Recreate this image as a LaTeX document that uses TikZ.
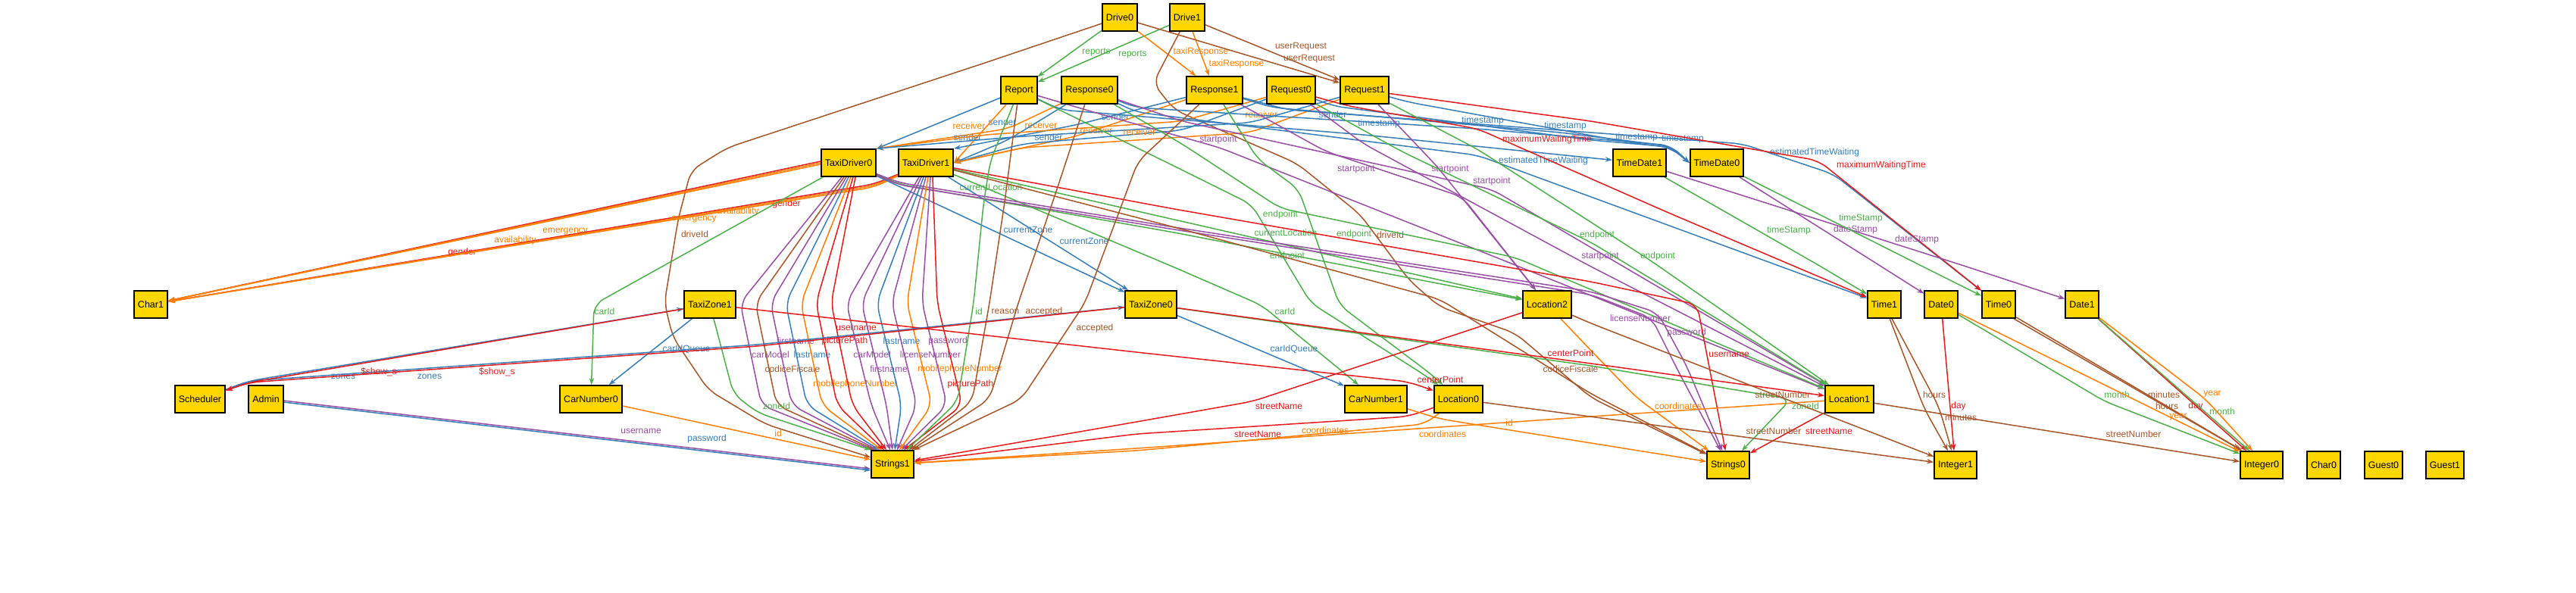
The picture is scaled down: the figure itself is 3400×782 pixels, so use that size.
\documentclass[tikz,border=0pt]{standalone}
\usepackage{fontspec}
\newfontfamily\af{Liberation Sans}
\usetikzlibrary{arrows.meta}
\pgfdeclarelayer{bg}
\pgfsetlayers{bg,main}
\definecolor{cR}{HTML}{E41A1C}
\definecolor{cB}{HTML}{377EB8}
\definecolor{cG}{HTML}{4DAF4A}
\definecolor{cP}{HTML}{984EA3}
\definecolor{cO}{HTML}{FF7F00}
\definecolor{cN}{HTML}{A65628}
\definecolor{gold}{HTML}{FFD700}
\begin{document}
\begin{tikzpicture}[x=1pt,y=-1pt,
  abox/.style={draw=black,line width=1.8pt,fill=gold,minimum height=36pt,inner xsep=5pt,inner ysep=0pt,font=\af\fontsize{12.5}{14}\selectfont},
  conn/.style={line width=1.5pt,-{Stealth[length=9pt,width=6.5pt]},rounded corners=14pt},
  lab/.style={font=\af\fontsize{12}{13}\selectfont,inner sep=0pt}]
\useasboundingbox (0,0) rectangle (3400,782);
% nodes
\node[abox] (D0) at (1478,23) {Drive0};
\node[abox] (D1) at (1567,23) {Drive1};
\node[abox] (Rep) at (1345,119) {Report};
\node[abox] (Rs0) at (1438,119) {Response0};
\node[abox] (Rs1) at (1603,119) {Response1};
\node[abox] (Rq0) at (1704,119) {Request0};
\node[abox] (Rq1) at (1801,119) {Request1};
\node[abox] (TD0) at (1120,215) {TaxiDriver0};
\node[abox] (TD1) at (1222,215) {TaxiDriver1};
\node[abox] (TT1) at (2164,215) {TimeDate1};
\node[abox] (TT0) at (2266,215) {TimeDate0};
\node[abox] (Ch1) at (199,402) {Char1};
\node[abox] (TZ1) at (937,402) {TaxiZone1};
\node[abox] (TZ0) at (1519,402) {TaxiZone0};
\node[abox] (L2) at (2042,402) {Location2};
\node[abox] (Ti1) at (2487,402) {Time1};
\node[abox] (Da0) at (2562,402) {Date0};
\node[abox] (Ti0) at (2638,402) {Time0};
\node[abox] (Da1) at (2748,402) {Date1};
\node[abox] (Sch) at (264,527) {Scheduler};
\node[abox] (Adm) at (351,527) {Admin};
\node[abox] (CN0) at (780,527) {CarNumber0};
\node[abox] (CN1) at (1816,527) {CarNumber1};
\node[abox] (L0) at (1925,527) {Location0};
\node[abox] (L1) at (2441,527) {Location1};
\node[abox] (S1) at (1178,613) {Strings1};
\node[abox] (S0) at (2281,614) {Strings0};
\node[abox] (I1) at (2581,614) {Integer1};
\node[abox] (I0) at (2985,614) {Integer0};
\node[abox] (Ch0) at (3067,614) {Char0};
\node[abox] (G0) at (3146,614) {Guest0};
\node[abox] (G1) at (3227,614) {Guest1};
\begin{pgfonlayer}{bg}
\fill[white] (0,0) rectangle (3400,782);
% Drive
\draw[conn,cG] (D0) -- (Rep) node[lab] at (1447,69) {reports};
\draw[conn,cG] (D1) -- (Rep) node[lab] at (1495,72) {reports};
\draw[conn,cO] (D0) -- (Rs1) node[lab] at (1585,68) {taxiResponse};
\draw[conn,cO] (D1) -- (Rs1) node[lab] at (1632,84) {taxiResponse};
\draw[conn,cN] (D0) -- (Rq1) node[lab] at (1717,62) {userRequest};
\draw[conn,cN] (D1) -- (Rq1) node[lab] at (1728,78) {userRequest};
\draw[conn,cN] (D0) -- (1300,83) -- (960,195) -- (912,225) -- (895,290) -- (877,400) -- (888,445) -- (935,515) -- (1010,560) -- (S1) node[lab] at (917,309) {driveId};
\draw[conn,cN] (D1) -- (1522,110) -- (1550,145) -- (1712,216) -- (1795,283) -- (1860,370) -- (1900,405) -- (2000,440) -- (2100,525) -- (S0) node[lab] at (1835,310) {driveId};
% sender / receiver
\draw[conn,cB] (Rep) -- (TD0.north east) node[lab] at (1323,161) {sender};
\draw[conn,cO] (Rep) -- (TD1.east) node[lab] at (1279,166) {receiver};
\draw[conn,cO] (Rs0) -- (1330,170) -- (TD0.north east) node[lab] at (1374,165) {receiver};
\draw[conn,cB] (Rs0) -- (1330,185) -- (TD1.east) node[lab] at (1384,181) {sender};
\draw[conn,cB] (Rs1) -- (1420,165) -- (TD1.north east) node[lab] at (1472,154) {sender};
\draw[conn,cO] (Rs1) -- (1420,180) -- (TD1.east) node[lab] at (1447,172) {receiver};
\draw[conn,cB] (Rq0) -- (1560,172) -- (1350,190) -- (TD1.east) node[lab] at (1277,181) {sender};
\draw[conn,cO] (Rq0) -- (1560,160) -- (1300,178) -- (TD0.north east) node[lab] at (1665,151) {receiver};
\draw[conn,cB] (Rq1) -- (1650,162) -- (1350,180) -- (TD0.north east) node[lab] at (1759,151) {sender};
\draw[conn,cO] (Rq1) -- (1650,175) -- (1350,195) -- (TD1.east) node[lab] at (1504,174) {receiver};
% timestamp
\draw[conn,cB] (Rep) -- (1400,145) -- (1800,178) -- (TT1) node[lab] at (1820,163) {timestamp};
\draw[conn,cB] (Rs0) -- (1500,142) -- (1950,170) -- (2205,192) -- (TT0.west) node[lab] at (1957,159) {timestamp};
\draw[conn,cB] (Rs1) -- (1680,142) -- (2060,175) -- (2205,193) -- (TT0.west) node[lab] at (2066,166) {timestamp};
\draw[conn,cB] (Rq0) -- (1760,140) -- (2100,185) -- (2205,194) -- (TT0.west) node[lab] at (2160,181) {timestamp};
\draw[conn,cB] (Rq1) -- (1860,135) -- (2150,188) -- (2205,195) -- (TT0.west) node[lab] at (2221,183) {timestamp};
% waiting times
\draw[conn,cB] (Rs0) -- (1500,148) -- (1950,205) -- (Ti1) node[lab] at (2037,212) {estimatedTimeWaiting};
\draw[conn,cB] (Rs1) -- (1700,145) -- (2300,190) -- (2420,230) -- (Ti0) node[lab] at (2395,201) {estimatedTimeWaiting};
\draw[conn,cR] (Rq0) -- (1780,140) -- (1950,170) -- (2200,280) -- (Ti1) node[lab] at (2042,184) {maximumWaitingTime};
\draw[conn,cR] (Rq1) -- (2100,160) -- (2400,212) -- (Ti0) node[lab] at (2483,218) {maximumWaitingTime};
% startpoint
\draw[conn,cP] (Rq1) -- (1897,220) -- (L2) node[lab] at (1914,223) {startpoint};
\draw[conn,cP] (Rs1) -- (1750,200) -- (1930,260) -- (L2) node[lab] at (1790,223) {startpoint};
\draw[conn,cP] (Rep) -- (1450,150) -- (1610,195) -- (1950,330) -- (L1) node[lab] at (1608,184) {startpoint};
\draw[conn,cP] (Rs0) -- (1560,160) -- (1969,250) -- (L1) node[lab] at (1969,239) {startpoint};
\draw[conn,cP] (Rq0) -- (1800,190) -- (2096,350) -- (L1) node[lab] at (2112,338) {startpoint};
% endpoint
\draw[conn,cG] (Rep) -- (1537,213) -- (1652,270) -- (1730,400) -- (1880,495) -- (L0) node[lab] at (1699,338) {endpoint};
\draw[conn,cG] (Rs1) -- (1660,210) -- (1714,250) -- (1768,403) -- (1890,495) -- (L0) node[lab] at (1787,309) {endpoint};
\draw[conn,cG] (Rs0) -- (1560,190) -- (1690,275) -- (2000,340) -- (L1) node[lab] at (1690,283) {endpoint};
\draw[conn,cG] (Rq0) -- (1850,200) -- (2100,320) -- (L1) node[lab] at (2108,310) {endpoint};
\draw[conn,cG] (Rq1) -- (1950,197) -- (2180,345) -- (L1) node[lab] at (2188,338) {endpoint};
% TaxiDriver -> Char1
\draw[conn,cR] ([yshift=2pt]TD0.west) -- (Ch1) node[lab] at (610,333) {gender};
\draw[conn,cO] (TD0.west) -- (Ch1) node[lab] at (680,317) {availability};
\draw[conn,cO] ([yshift=-2pt]TD0.west) -- (Ch1) node[lab] at (746,306) {emergency};
\draw[conn,cR] (TD1) -- (1154,243) -- (Ch1) node[lab] at (1038,269) {gender};
\draw[conn,cO] (TD1) -- (1154,245) -- (Ch1) node[lab] at (974,279) {availability};
\draw[conn,cO] (TD1) -- (1154,247) -- (Ch1) node[lab] at (916,290) {emergency};
% carId, currentLocation, currentZone
\draw[conn,cG] (TD0) -- (784,402) -- (CN0) node[lab] at (798,411) {carId};
\draw[conn,cG] (TD1) -- (1550,353) -- (1665,403) -- (CN1) node[lab] at (1696,411) {carId};
\draw[conn,cG] (TD1) -- (1550,290) -- (L2) node[lab] at (1308,247) {currentLocation};
\draw[conn,cG] (TD0) -- (1186,243) -- (1550,307) -- (L2) node[lab] at (1697,307) {currentLocation};
\draw[conn,cB] (TD0) -- (TZ0) node[lab] at (1357,303) {currentZone};
\draw[conn,cB] (TD1) -- (TZ0) node[lab] at (1431,318) {currentZone};
% TaxiDriver -> Strings0
\draw[conn,cP] (TD0) -- (1186,241) -- (1550,300) -- (2100,385) -- (2188,413) -- (2226,483) -- (S0) node[lab] at (2165,420) {licenseNumber};
\draw[conn,cP] (TD0) -- (1186,244) -- (1550,303) -- (2100,389) -- (2180,420) -- (2215,490) -- (S0) node[lab] at (2226,439) {password};
\draw[conn,cR] (TD1) -- (1550,276) -- (2100,372) -- (2240,402) -- (S0) node[lab] at (2282,468) {username};
\draw[conn,cN] (TD1) -- (1550,300) -- (1900,395) -- (2100,520) -- (S0) node[lab] at (2073,487) {codiceFiscale};
% TaxiDriver0 -> Strings1 fan
\draw[conn,cP] ([xshift=-9pt]TD0.south) -- (977,400) -- (1005,535) -- ([xshift=-26pt]S1.north) node[lab] at (1017,468) {carModel};
\draw[conn,cN] ([xshift=-6pt]TD0.south) -- (997,400) -- (1025,535) -- ([xshift=-23pt]S1.north) node[lab] at (1046,487) {codiceFiscale};
\draw[conn,cP] ([xshift=-3pt]TD0.south) -- (1017,400) -- (1045,535) -- ([xshift=-20pt]S1.north) node[lab] at (1050,450) {firstname};
\draw[conn,cB] (TD0.south) -- (1037,400) -- (1065,535) -- ([xshift=-17pt]S1.north) node[lab] at (1072,468) {lastname};
\draw[conn,cO] ([xshift=3pt]TD0.south) -- (1057,400) -- (1085,535) -- ([xshift=-14pt]S1.north) node[lab] at (1129,507) {mobilephoneNumber};
\draw[conn,cR] ([xshift=6pt]TD0.south) -- (1077,400) -- (1105,535) -- ([xshift=-11pt]S1.north) node[lab] at (1115,450) {picturePath};
\draw[conn,cR] ([xshift=9pt]TD0.south) -- (1097,400) -- (1125,535) -- ([xshift=-8pt]S1.north) node[lab] at (1130,433) {username};
% TaxiDriver1 -> Strings1 fan
\draw[conn,cP] ([xshift=-9pt]TD1.south) -- (1117,400) -- (1150,535) -- ([xshift=-3pt]S1.north) node[lab] at (1151,468) {carModel};
\draw[conn,cP] ([xshift=-6pt]TD1.south) -- (1137,400) -- (1170,535) -- (S1.north) node[lab] at (1173,487) {firstname};
\draw[conn,cB] ([xshift=-3pt]TD1.south) -- (1157,400) -- (1190,535) -- ([xshift=3pt]S1.north) node[lab] at (1190,450) {lastname};
\draw[conn,cP] (TD1.south) -- (1177,400) -- (1210,535) -- ([xshift=6pt]S1.north) node[lab] at (1228,468) {licenseNumber};
\draw[conn,cO] ([xshift=3pt]TD1.south) -- (1197,400) -- (1230,535) -- ([xshift=9pt]S1.north) node[lab] at (1267,487) {mobilephoneNumber};
\draw[conn,cP] ([xshift=6pt]TD1.south) -- (1217,400) -- (1250,535) -- ([xshift=12pt]S1.north) node[lab] at (1251,450) {password};
\draw[conn,cR] ([xshift=9pt]TD1.south) -- (1237,400) -- (1270,535) -- ([xshift=15pt]S1.north) node[lab] at (1281,507) {picturePath};
% Report / Response -> Strings1
\draw[conn,cG] (Rep) -- (1307,213) -- (1298,270) -- (1285,400) -- (1264,530) -- ([xshift=19pt]S1.north) node[lab] at (1292,411) {id};
\draw[conn,cN] (Rep) -- (1326,267) -- (1306,400) -- (1283,530) -- ([xshift=22pt]S1.north) node[lab] at (1327,411) {reason};
\draw[conn,cN] (Rs0) -- (1395,250) -- (1344,400) -- (1306,527) -- ([xshift=25pt]S1.north) node[lab] at (1378,411) {accepted};
\draw[conn,cN] (Rs1) -- (1502,213) -- (1432,400) -- (1348,527) -- ([xshift=28pt]S1.north) node[lab] at (1445,433) {accepted};
% left side -> Strings1
\draw[conn,cG] (TZ1) -- (968,520) -- (1000,545) -- (S1.north west) node[lab] at (1025,536) {zoneId};
\draw[conn,cO] (CN0) -- (S1) node[lab] at (1027,572) {id};
\draw[conn,cP] ([yshift=-2pt]Adm.east) -- ([yshift=-6pt]S1.west) node[lab] at (846,569) {username};
\draw[conn,cB] ([yshift=-4pt]Adm.east) -- ([yshift=-8pt]S1.west) node[lab] at (933,579) {password};
% Locations -> Strings
\draw[conn,cR] (L2) -- (1653,530) -- (1500,557) -- (S1) node[lab] at (1688,536) {streetName};
\draw[conn,cR] (L0) -- (1858,550) -- (1500,573) -- (S1) node[lab] at (1660,573) {streetName};
\draw[conn,cO] (L1) -- (2100,550) -- (1500,592) -- (S1) node[lab] at (1749,568) {coordinates};
\draw[conn,cO] (L0) -- (1880,560) -- (1500,595) -- (S1) node[lab] at (1904,573) {coordinates};
\draw[conn,cO] (L2) -- (2100,463) -- (2160,525) -- (S0) node[lab] at (2215,536) {coordinates};
\draw[conn,cR] (L1) -- (S0) node[lab] at (2414,569) {streetName};
\draw[conn,cO] (CN1) -- (1900,553) -- (S0) node[lab] at (1992,558) {id};
% TaxiZones
\draw[conn,cG] (TZ0) -- (2100,483) -- (2364,527) -- (S0) node[lab] at (2383,536) {zoneId};
\draw[conn,cR] (TZ0) -- (2100,480) -- (L1) node[lab] at (2073,466) {centerPoint};
\draw[conn,cR] (TZ1) -- (1097,420) -- (1500,465) -- (1858,504) -- (L0) node[lab] at (1901,501) {centerPoint};
\draw[conn,cB] (TZ1) -- (CN0) node[lab] at (906,461) {carIdQueue};
\draw[conn,cB] (TZ0) -- (CN1) node[lab] at (1708,461) {carIdQueue};
% Scheduler
\draw[conn,cB] (Sch) -- (329,503) -- (TZ1) node[lab] at (453,497) {zones};
\draw[conn,cB] (Sch) -- (329,503) -- (1000,455) -- (TZ0) node[lab] at (567,497) {zones};
\draw[conn,cR] (TZ1) -- (329,505) -- (Sch) node[lab] at (500,491) {\$show\_s};
\draw[conn,cR] (TZ0) -- (1000,457) -- (329,505) -- (Sch) node[lab] at (656,491) {\$show\_s};
% TimeDate
\draw[conn,cG] (TT1) -- (2400,350) -- (Ti1) node[lab] at (2361,304) {timeStamp};
\draw[conn,cP] (TT1) -- (2583,348) -- (Da1) node[lab] at (2530,316) {dateStamp};
\draw[conn,cP] (TT0) -- (2480,350) -- (Da0) node[lab] at (2449,303) {dateStamp};
\draw[conn,cG] (TT0) -- (2534,350) -- (Ti0) node[lab] at (2456,288) {timeStamp};
% Integer1
\draw[conn,cN] (Ti1) -- (2540,540) -- ([xshift=-10pt]I1.north) node[lab] at (2553,521) {hours};
\draw[conn,cN] (Ti1) -- (2559,537) -- ([xshift=-5pt]I1.north) node[lab] at (2588,551) {minutes};
\draw[conn,cR] (Da0) -- ([xshift=-2pt]I1.north) node[lab] at (2585,536) {day};
\draw[conn,cN] (L0) -- (I1) node[lab] at (2341,569) {streetNumber};
\draw[conn,cN] (L2) -- (2100,427) -- (I1) node[lab] at (2353,521) {streetNumber};
% Integer0
\draw[conn,cN] ([yshift=2pt]Ti0.south east) -- ([yshift=2pt]I0.north west) node[lab] at (2856,521) {minutes};
\draw[conn,cN] ([xshift=-3pt]Ti0.south east) -- ([xshift=3pt]I0.north west) node[lab] at (2860,536) {hours};
\draw[conn,cG] (Da0) -- (2778,530) -- ([yshift=-4pt]I0.north west) node[lab] at (2794,521) {month};
\draw[conn,cO] (Da0) -- ([yshift=-1pt]I0.north west) node[lab] at (2875,551) {year};
\draw[conn,cR] (Da1) -- ([xshift=-20pt]I0.north) node[lab] at (2898,536) {day};
\draw[conn,cG] (Da1) -- ([xshift=-16pt]I0.north) node[lab] at (2933,543) {month};
\draw[conn,cO] (Da1) -- (2911,527) -- ([xshift=-12pt]I0.north) node[lab] at (2920,521) {year};
\draw[conn,cN] (L1) -- (I0) node[lab] at (2816,573) {streetNumber};
\end{pgfonlayer}
\end{tikzpicture}
\end{document}
